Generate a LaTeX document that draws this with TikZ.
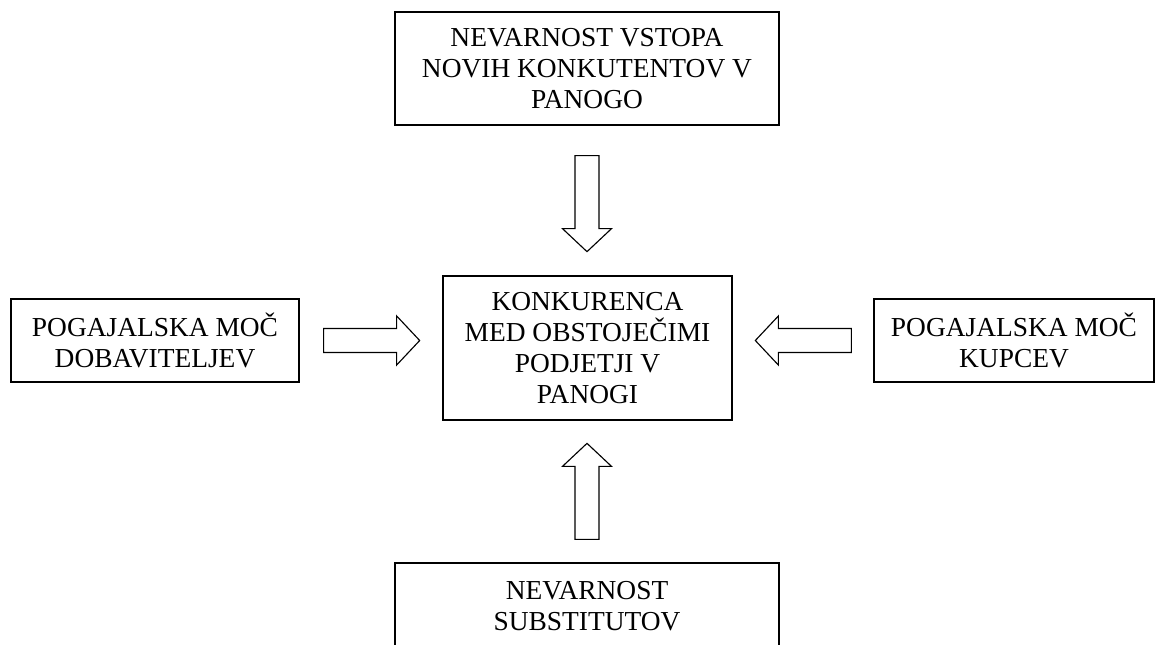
\documentclass[tikz,border=0pt]{standalone}
\usepackage{fontspec}
\setmainfont{Liberation Serif}
\usepackage{tikz}
\usetikzlibrary{positioning}

\begin{document}
\begin{tikzpicture}[x=0.025cm,y=0.025cm,
    box/.style={draw,line width=0.9pt,align=center,inner sep=0pt,
        font=\fontsize{19.5}{22}\selectfont},
    fatarrow/.pic={\draw[line width=0.8pt,line join=miter]
        (0,-12) -- (73,-12) -- (73,-24.5) -- (96,0) -- (73,24.5) -- (73,12) -- (0,12) -- cycle;}]
        \useasboundingbox (0,0) rectangle (1155,-644);
        % Boxes
        \node[box,minimum width=9.6cm,minimum height=2.825cm] (vstop) at (587,-68.5)
            {NEVARNOST VSTOPA\\NOVIH KONKUTENTOV V\\PANOGO};
        \node[box,minimum width=7.225cm,minimum height=3.6cm] (konkurenca) at (587.5,-348)
            {KONKURENCA\\MED OBSTOJEČIMI\\PODJETJI V\\PANOGI};
        \node[box,minimum width=7.2cm,minimum height=2.075cm] (dobavitelji) at (155,-340.5)
            {POGAJALSKA MOČ\\DOBAVITELJEV};
        \node[box,minimum width=7cm,minimum height=2.075cm] (kupci) at (1014,-340.5)
            {POGAJALSKA MOČ\\KUPCEV};
        \node[box,minimum width=9.6cm,minimum height=2.15cm] (substituti) at (587,-606)
            {NEVARNOST\\SUBSTITUTOV};
        % Arrows
        \coordinate[below=0.75cm of vstop] (a1);
        \coordinate[above=0.575cm of substituti] (a2);
        \coordinate[right=0.6cm of dobavitelji] (a3);
        \coordinate[left=0.55cm of kupci] (a4);
        \pic[rotate=-90] at (a1) {fatarrow};
        \pic[rotate=90] at (a2) {fatarrow};
        \pic at (a3) {fatarrow};
        \pic[rotate=180] at (a4) {fatarrow};
    \end{tikzpicture}
\end{document}
